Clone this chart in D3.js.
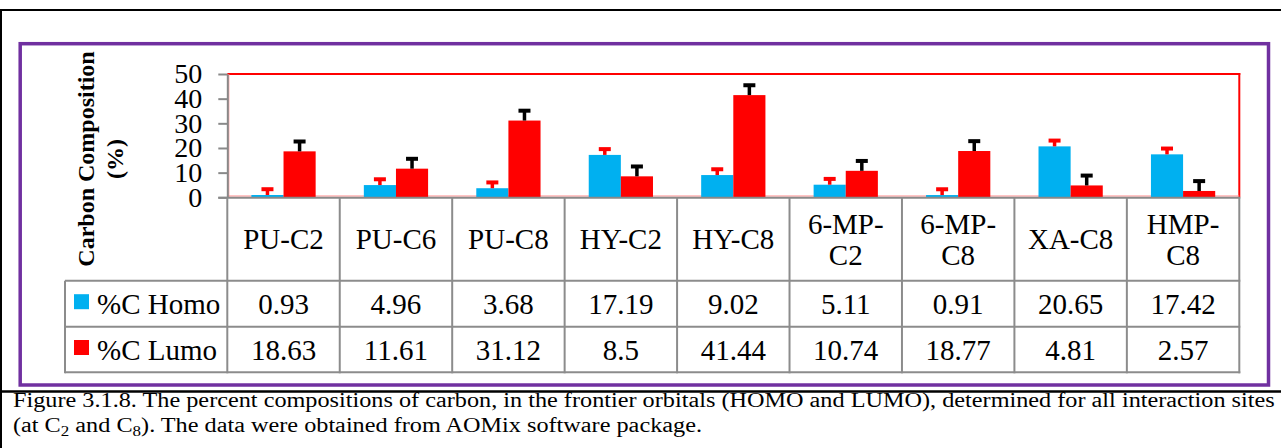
<!DOCTYPE html>
<html><head><meta charset="utf-8">
<script src="https://cdn.jsdelivr.net/npm/d3@7"></script>
<style>body{margin:0;background:#fff}svg{display:block}</style>
</head><body><svg id="c" width="1281" height="448"></svg>
<script>
const categories = ["PU-C2","PU-C6","PU-C8","HY-C2","HY-C8","6-MP-C2","6-MP-C8","XA-C8","HMP-C8"];
const seriesNames = ["%C Homo","%C Lumo"];
const homo = [0.93,4.96,3.68,17.19,9.02,5.11,0.91,20.65,17.42];
const lumo = [18.63,11.61,31.12,8.5,41.44,10.74,18.77,4.81,2.57];
const homoErr = [2.35,2.35,2.35,2.35,2.35,2.35,2.35,2.35,2.35];
const lumoErr = [4.0,4.0,4.0,4.0,4.0,4.0,4.0,4.0,4.0];
const yTicks = [0,10,20,30,40,50];
const yTitle = ["Carbon Composition","(%)"];
const captionLine1 = "Figure 3.1.8. The percent compositions of carbon, in the frontier orbitals (HOMO and LUMO), determined for all interaction sites";
const captionLine2 = [["(at C",""],["2","sub"],[" and C",""],["8","sub"],["). The data were obtained from AOMix software package.",""]];

const seriesValues = [homo, lumo];
const seriesErr = [homoErr, lumoErr];
const barColors = ["#00B0F0", "#FF0000"];
const errColors = ["#FF0000", "#000000"];
const serif = "'Liberation Serif','Times New Roman',serif";
const gridCol = "#8c8c8c";

const svg = d3.select("#c");
svg.append("rect").attr("width",1281).attr("height",448).attr("fill","#fff");

// outer black frame
svg.append("line").attr("x1",0).attr("x2",1281).attr("y1",10).attr("y2",10).attr("stroke","#000").attr("stroke-width",2);
svg.append("line").attr("x1",1).attr("x2",1).attr("y1",9).attr("y2",448).attr("stroke","#000").attr("stroke-width",2);
svg.append("line").attr("x1",0).attr("x2",1281).attr("y1",391.5).attr("y2",391.5).attr("stroke","#000").attr("stroke-width",2.5);
// purple box
svg.append("rect").attr("x",20.2).attr("y",43.7).attr("width",1248.3).attr("height",341.3)
  .attr("fill","none").attr("stroke","#7030A0").attr("stroke-width",3.5);

const X0 = 227.3, X1 = 1239.3, Y0 = 197.3, Y1 = 74;
const x = d3.scaleBand().domain(categories).range([X0, X1]);
const sub = d3.scaleBand().domain(seriesNames).range([0, x.bandwidth()]).paddingOuter(0.75);
const y = d3.scaleLinear().domain([0, 50]).range([Y0, Y1]);

// plot area border
svg.append("line").attr("x1",X0).attr("x2",X1+1).attr("y1",Y1).attr("y2",Y1).attr("stroke","#FF0000").attr("stroke-width",2);
svg.append("line").attr("x1",X1).attr("x2",X1).attr("y1",Y1-1).attr("y2",Y0).attr("stroke","#FF0000").attr("stroke-width",2);
svg.append("line").attr("x1",X0+1.5).attr("x2",X0+1.5).attr("y1",Y1).attr("y2",Y0).attr("stroke","#ff8a8a").attr("stroke-width",1);
svg.append("line").attr("x1",X0).attr("x2",X1).attr("y1",Y0-1.3).attr("y2",Y0-1.3).attr("stroke","#ff8a8a").attr("stroke-width",1);

// bars
seriesNames.forEach((s, si) => {
  svg.append("g").selectAll("rect").data(categories).join("rect")
    .attr("x", c => x(c) + sub(s))
    .attr("width", sub.bandwidth())
    .attr("y", (c, i) => y(seriesValues[si][i]))
    .attr("height", (c, i) => y(0) - y(seriesValues[si][i]))
    .attr("fill", barColors[si]);
});
// error bars
seriesNames.forEach((s, si) => {
  const g = svg.append("g").attr("stroke", errColors[si]);
  categories.forEach((c, i) => {
    const cx = x(c) + sub(s) + sub.bandwidth() / 2;
    const v = seriesValues[si][i], e = seriesErr[si][i];
    g.append("line").attr("x1",cx).attr("x2",cx).attr("y1",y(v)).attr("y2",y(v+e)).attr("stroke-width",3.5);
    g.append("line").attr("x1",cx-6).attr("x2",cx+6).attr("y1",y(v+e)).attr("y2",y(v+e)).attr("stroke-width",4);
  });
});

// y axis
const ax = svg.append("g").attr("transform",`translate(${X0},0)`)
  .call(d3.axisLeft(y).tickValues(yTicks).tickSize(9).tickSizeOuter(0).tickPadding(16).tickFormat(d3.format("d")));
ax.select(".domain").attr("stroke","#898989").attr("stroke-width",2);
ax.selectAll(".tick line").attr("stroke","#898989").attr("stroke-width",2);
ax.selectAll(".tick text").attr("font-family",serif).attr("font-size",28).attr("fill","#000");

// y title
const tt = svg.append("text").attr("transform","translate(0,159) rotate(-90)")
  .attr("font-family",serif).attr("font-weight","bold").attr("font-size",24).attr("text-anchor","middle");
tt.append("tspan").attr("x",0).attr("y",94).text(yTitle[0]);
tt.append("tspan").attr("x",0).attr("y",123).text(yTitle[1]);

// data table
const rowY = [Y0, 280.7, 326.7, 372.3];
const TL = 65;
const tg = svg.append("g").attr("stroke", gridCol).attr("stroke-width", 2);
// bottom axis line
tg.append("line").attr("x1",X0-9).attr("x2",X1+1).attr("y1",Y0+0.5).attr("y2",Y0+0.5).attr("stroke","#898989");
[1,2,3].forEach(r => tg.append("line").attr("x1",TL).attr("x2",X1+1).attr("y1",rowY[r]).attr("y2",rowY[r]));
tg.append("line").attr("x1",TL).attr("x2",TL).attr("y1",rowY[1]).attr("y2",rowY[3]+1);
categories.concat([null]).forEach((c, i) => {
  const xx = c === null ? X1 : x(c);
  tg.append("line").attr("x1",xx).attr("x2",xx).attr("y1",Y0).attr("y2",rowY[3]+1);
});

// category labels
const labG = svg.append("g").attr("font-family",serif).attr("font-size",29).attr("text-anchor","middle").attr("fill","#000");
const cy0 = (rowY[0] + rowY[1]) / 2;
categories.forEach(c => {
  const cx = x(c) + x.bandwidth() / 2;
  const t = labG.append("text").attr("x",cx).attr("y",cy0 + 10).text(c);
  if (t.node().getComputedTextLength() > x.bandwidth() - 8) {
    const k = c.lastIndexOf("-");
    t.text(null).attr("y", null);
    t.append("tspan").attr("x",cx).attr("y",cy0 + 10 - 15.5).text(c.slice(0, k + 1));
    t.append("tspan").attr("x",cx).attr("y",cy0 + 10 + 15.5).text(c.slice(k + 1));
  }
});
// value rows + legend
seriesNames.forEach((s, si) => {
  const cy = (rowY[si + 1] + rowY[si + 2]) / 2;
  svg.append("rect").attr("x",74).attr("y",cy - 2 - 7.5).attr("width",15).attr("height",15).attr("fill",barColors[si]);
  svg.append("text").attr("x",97).attr("y",cy + 10).attr("font-family",serif).attr("font-size",29).text(s);
  labG.selectAll(null).data(seriesValues[si]).join("text")
    .attr("x",(d, i) => x(categories[i]) + x.bandwidth() / 2)
    .attr("y",cy + 10).text(d => String(d));
});

// caption
const capG = svg.append("g").attr("font-family",serif).attr("font-size",20).attr("fill","#000");
const c1 = capG.append("text").attr("y",407.3).text(captionLine1);
const natural = c1.node().getComputedTextLength();
const sx = 1262 / natural;
c1.attr("transform",`translate(13,0) scale(${sx},1)`);
const c2 = capG.append("text").attr("y",431.7).attr("transform",`translate(13,0) scale(${sx},1)`);
captionLine2.forEach(([t, k]) => {
  const sp = c2.append("tspan").text(t);
  if (k === "sub") sp.attr("font-size",14).attr("dy",4);
  else if (t !== captionLine2[0][0]) sp.attr("dy",-4);
});
</script></body></html>
